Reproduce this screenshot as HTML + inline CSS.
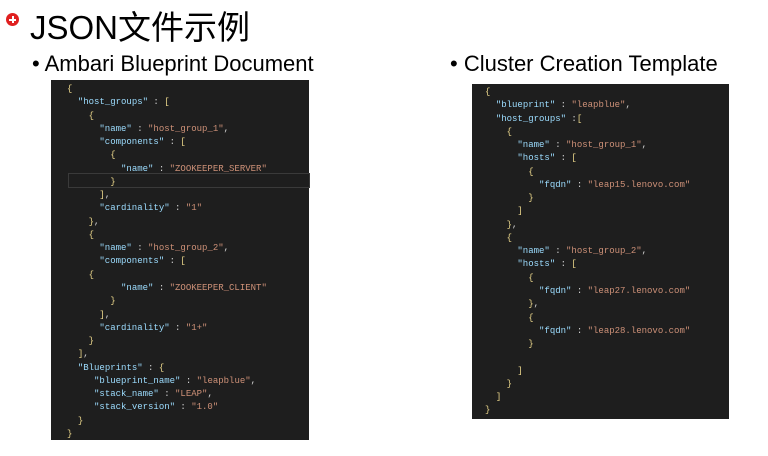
<!DOCTYPE html>
<html><head><meta charset="utf-8"><style>
body{margin:0;width:768px;height:456px;background:#fff;position:relative;overflow:hidden;font-family:"Liberation Sans","Noto Sans CJK SC",sans-serif;}
.t{position:absolute;white-space:nowrap;color:#000;}
.p{position:absolute;background:#1e1e1e;}
.c{position:absolute;font-family:"Liberation Mono",monospace;font-size:9px;white-space:pre;color:#d4d4d4;line-height:13.27px;}
.k{color:#9cdcfe}.s{color:#ce9178}.b{color:#e8d48a}
</style></head><body>
<div style="position:absolute;left:6px;top:13px;width:13px;height:13px;border-radius:50%;background:#e02020;"></div>
<div style="position:absolute;left:9px;top:18.5px;width:7px;height:2px;background:#fff;"></div>
<div style="position:absolute;left:11.5px;top:16px;width:2px;height:7px;background:#fff;"></div>
<div class="t" style="left:30px;top:1px;font-size:33px;">JSON文件示例</div>
<div class="t" style="left:32px;top:51px;font-size:22px;">• Ambari Blueprint Document</div>
<div class="t" style="left:450px;top:51px;font-size:22px;">• Cluster Creation Template</div>
<div class="p" style="left:51px;top:80px;width:258px;height:360px;"></div>
<div class="p" style="left:472px;top:84px;width:257px;height:335px;"></div>
<div style="position:absolute;left:68px;top:173px;width:240px;height:13px;border:1px solid #3a3a3a;"></div>
<div class="c" style="left:67px;top:83px;"><span class="b">{</span>
  <span class="k">"host_groups"</span> : <span class="b">[</span>
    <span class="b">{</span>
      <span class="k">"name"</span> : <span class="s">"host_group_1"</span>,
      <span class="k">"components"</span> : <span class="b">[</span>
        <span class="b">{</span>
          <span class="k">"name"</span> : <span class="s">"ZOOKEEPER_SERVER"</span>
        <span class="b">}</span>
      <span class="b">]</span>,
      <span class="k">"cardinality"</span> : <span class="s">"1"</span>
    <span class="b">}</span>,
    <span class="b">{</span>
      <span class="k">"name"</span> : <span class="s">"host_group_2"</span>,
      <span class="k">"components"</span> : <span class="b">[</span>
    <span class="b">{</span>
          <span class="k">"name"</span> : <span class="s">"ZOOKEEPER_CLIENT"</span>
        <span class="b">}</span>
      <span class="b">]</span>,
      <span class="k">"cardinality"</span> : <span class="s">"1+"</span>
    <span class="b">}</span>
  <span class="b">]</span>,
  <span class="k">"Blueprints"</span> : <span class="b">{</span>
     <span class="k">"blueprint_name"</span> : <span class="s">"leapblue"</span>,
     <span class="k">"stack_name"</span> : <span class="s">"LEAP"</span>,
     <span class="k">"stack_version"</span> : <span class="s">"1.0"</span>
  <span class="b">}</span>
<span class="b">}</span></div>
<div class="c" style="left:485px;top:86px;"><span class="b">{</span>
  <span class="k">"blueprint"</span> : <span class="s">"leapblue"</span>,
  <span class="k">"host_groups"</span> :<span class="b">[</span>
    <span class="b">{</span>
      <span class="k">"name"</span> : <span class="s">"host_group_1"</span>,
      <span class="k">"hosts"</span> : <span class="b">[</span>
        <span class="b">{</span>
          <span class="k">"fqdn"</span> : <span class="s">"leap15.lenovo.com"</span>
        <span class="b">}</span>
      <span class="b">]</span>
    <span class="b">}</span>,
    <span class="b">{</span>
      <span class="k">"name"</span> : <span class="s">"host_group_2"</span>,
      <span class="k">"hosts"</span> : <span class="b">[</span>
        <span class="b">{</span>
          <span class="k">"fqdn"</span> : <span class="s">"leap27.lenovo.com"</span>
        <span class="b">}</span>,
        <span class="b">{</span>
          <span class="k">"fqdn"</span> : <span class="s">"leap28.lenovo.com"</span>
        <span class="b">}</span>

      <span class="b">]</span>
    <span class="b">}</span>
  <span class="b">]</span>
<span class="b">}</span></div>
</body></html>
